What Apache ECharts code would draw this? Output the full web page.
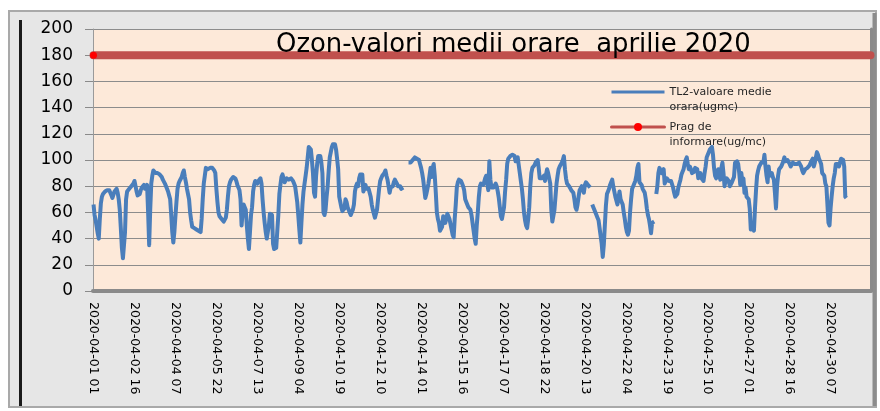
<!DOCTYPE html>
<html>
<head>
<meta charset="utf-8">
<title>Ozon-valori medii orare aprilie 2020</title>
<script src="https://cdn.jsdelivr.net/npm/echarts@6.0.0/dist/echarts.min.js"></script>
<style>
  html, body { margin: 0; padding: 0; background: #fff; }
  #main { width: 880px; height: 411px; }
</style>
</head>
<body>
<div id="main"></div>
<script>
// ore: 2020-04-01 01 ... (categorii orare)
const firstHour = Date.UTC(2020, 3, 1, 1)
const NUM_HOURS = 741
const LABEL_STEP = 39 // o eticheta la fiecare 39 ore

// valori medii orare ozon TL2 (ug/mc), un rand = o zi, null = lipsa date
const ozone = [
  66, 58, 54, 53, 44, 40, 55, 67, 72, 74, 74, 76, 76, 77, 78, 77, 75, 73, 71, 72, 76, 77, 78, 75,
  70, 62, 48, 33, 25, 24, 45, 70, 76, 77, 78, 79, 80, 80, 82, 84, 85, 76, 73, 72, 74, 77, 79, 80,
  81, 78, 77, 81, 60, 35, 62, 82, 88, 92, 91, 90, 91, 90, 90, 89, 88, 87, 85, 84, 82, 81, 78, 76,
  73, 70, 58, 45, 37, 45, 57, 68, 78, 82, 84, 85, 87, 90, 92, 87, 83, 78, 74, 70, 60, 54, 49, 49,
  48, 48, 47, 46, 46, 45, 45, 55, 70, 82, 88, 94, 93, 93, 93, 94, 94, 94, 94, 92, 90, 78, 68, 60,
  57, 56, 55, 54, 53, 52, 56, 62, 72, 80, 83, 85, 86, 87, 88, 86, 84, 81, 79, 77, 70, 50, 60, 66,
  64, 62, 50, 40, 32, 45, 58, 64, 76, 81, 84, 83, 82, 84, 85, 86, 82, 70, 60, 52, 45, 40, 45, 50,
  59, 60, 58, 36, 32, 33, 33, 34, 58, 74, 81, 87, 89, 88, 83, 84, 86, 86, 85, 86, 86, 86, 84, 82,
  80, 74, 68, 58, 47, 37, 52, 66, 76, 82, 88, 94, 102, 110, 109, 108, 100, 90, 75, 72, 88, 97, 103, 103,
  103, 98, 90, 60, 58, 62, 72, 80, 92, 102, 106, 110, 112, 113, 112, 108, 101, 93, 72, 68, 64, 61, 60, 63,
  70, 68, 64, 62, 60, 58, 58, 62, 66, 76, 80, 82, 80, 86, 89, 90, 89, 76, 78, 81, 78, 77, 78, 75,
  72, 66, 62, 59, 56, 55, 62, 70, 78, 84, 86, 88, 89, 90, 92, 88, 85, 80, 75, 79, 78, 80, 83, 85,
  84, 82, 80, 79, 80, 78, 77, 79, null, null, null, null, 98, 97, 98, 99, 100, 101, 102, 102, 101, 101, 100, 97,
  94, 90, 85, 78, 71, 74, 78, 82, 88, 94, 87, 94, 97, 88, 75, 60, 55, 52, 46, 47, 49, 57, 55, 52,
  55, 59, 57, 55, 54, 47, 43, 41, 55, 66, 79, 83, 85, 86, 84, 82, 80, 77, 70, 68, 67, 64, 63, 62,
  58, 52, 46, 40, 36, 50, 60, 72, 80, 82, 82, 81, 83, 86, 88, 82, 77, 99, 85, 79, 80, 79, 79, 82,
  80, 76, 71, 64, 57, 55, 54, 64, 76, 85, 97, 101, 102, 103, 104, 104, 103, 103, 99, 100, 102, 96, 90, 84,
  78, 70, 60, 54, 50, 48, 55, 64, 80, 90, 94, 95, 96, 98, 99, 100, 94, 86, 85, 86, 87, 88, 84, 89,
  93, 90, 86, 82, 62, 53, 52, 62, 72, 82, 88, 93, 95, 96, 98, 100, 103, 93, 86, 82, 81, 80, 79, 77,
  76, 75, 70, 64, 62, 66, 72, 77, 78, 80, 77, 75, 81, 83, 84, 81, 80, 79, null, 66, 64, 62, 60, 58,
  56, 54, 48, 42, 36, 26, 35, 50, 65, 74, 76, 78, 81, 83, 85, 80, 76, 72, 73, 66, 71, 76, 70, 68,
  66, 60, 55, 49, 45, 43, 46, 60, 70, 78, 80, 81, 84, 88, 94, 97, 83, 82, 81, 78, 77, 75, 70, 63,
  58, 55, 50, 44, 52, 53, 53, null, 74, 80, 90, 94, 95, 90, 91, 93, 82, 84, 86, 85, 84, 83, 84, 83,
  79, 75, 72, 71, 74, 79, 82, 85, 89, 91, 93, 97, 100, 102, 97, 93, 95, 93, 90, 89, 91, 94, 94, 93,
  86, 88, 90, 86, 85, 84, 90, 95, 102, 104, 106, 108, 109, 110, 104, 94, 88, 86, 85, 93, 88, 85, 94, 98,
  90, 80, 84, 86, 85, 84, 80, 80, 83, 84, 87, 98, 99, 99, 97, 90, 81, 90, 83, 86, 75, 79, 72, 71,
  70, 63, 47, 47, 48, 46, 63, 77, 88, 92, 95, 96, 98, 98, 98, 104, 95, 88, 83, 95, 88, 89, 90, 87,
  85, 75, 63, 80, 88, 93, 94, 95, 97, 99, 102, 99, 98, 100, 99, 97, 95, 96, 98, 97, 97, 98, 97, 98,
  98, 97, 95, 92, 90, 89, 93, 93, 94, 95, 96, 98, 99, 101, 95, 98, 102, 106, 104, 101, 99, 97, 90, 89,
  88, 82, 80, 79, 52, 50, 63, 72, 80, 86, 90, 97, 98, 97, 95, 98, 101, 101, 100, 95, 72, 71
]

// prag de informare ozon
const pragInformare = 180

const yTicks = { min: 0, max: 200, step: 20 }

const seriesNames = ['TL2-valoare medie orara(ugmc)', 'Prag de informare(ug/mc)']
// prima linie goala: textul incepe la nivelul simbolului, ca in Excel
const legendText = {
  'TL2-valoare medie orara(ugmc)': '\nTL2-valoare medie\norara(ugmc)',
  'Prag de informare(ug/mc)': '\nPrag de\ninformare(ug/mc)'
}

function pad(n) {
  return n < 10 ? '0' + n : '' + n
}

const categories = []
for (let i = 0; i < NUM_HOURS; i++) {
  const d = new Date(firstHour + i * 3600 * 1000)
  categories.push(d.getUTCFullYear() + '-' + pad(d.getUTCMonth() + 1) + '-' +
    pad(d.getUTCDate()) + ' ' + pad(d.getUTCHours()))
}

const FONT = 'DejaVu Sans'

function legendFor(name, top, hideSymbol) {
  return {
    data: [name],
    left: 610,
    top: top,
    padding: 0,
    itemWidth: 53,
    itemHeight: 10,
    selectedMode: false,
    lineStyle: { width: 3 },
    itemStyle: hideSymbol ? { opacity: 0 } : {},
    formatter: function (n) { return legendText[n] },
    textStyle: {
      fontFamily: FONT,
      fontSize: 11,
      lineHeight: 15,
      color: '#262626'
    }
  }
}

var myChart = echarts.init(document.getElementById('main'), null, { renderer: 'canvas' })

myChart.setOption({
  animation: false,
  backgroundColor: '#ffffff',
  // rama graficului (stil Excel)
  graphic: [
    {
      type: 'rect',
      z: -10,
      shape: { x: 9, y: 11, width: 867, height: 396 },
      style: { fill: '#e6e6e6', stroke: '#a9a9a9', lineWidth: 2 }
    },
    {
      type: 'line',
      z: -9,
      shape: { x1: 20.5, y1: 20, x2: 20.5, y2: 406 },
      style: { stroke: '#1a1a1a', lineWidth: 3 }
    },
    {
      type: 'line',
      z: -9,
      shape: { x1: 874.5, y1: 13, x2: 874.5, y2: 406 },
      style: { stroke: '#8c8c8c', lineWidth: 4 }
    }
  ],
  title: {
    text: 'Ozon-valori medii orare  aprilie 2020',
    left: 276,
    top: 32,
    padding: 0,
    textStyle: {
      fontFamily: FONT,
      fontSize: 25.9,
      fontWeight: 'normal',
      color: '#000'
    }
  },
  legend: [
    legendFor(seriesNames[0], 69.5, true),
    legendFor(seriesNames[1], 104.5, false)
  ],
  grid: {
    left: 93,
    right: 9,
    top: 29,
    bottom: 120,
    show: true,
    backgroundColor: '#fde9d9',
    borderWidth: 0
  },
  xAxis: {
    type: 'category',
    data: categories,
    boundaryGap: true,
    axisLine: { lineStyle: { color: '#8a8a8a', width: 4 } },
    axisTick: { show: false },
    axisLabel: {
      interval: LABEL_STEP - 1,
      rotate: -90,
      margin: 11,
      fontFamily: FONT,
      fontSize: 12.5,
      color: '#000'
    },
    splitLine: { show: false }
  },
  yAxis: [
    {
      type: 'value',
      min: yTicks.min,
      max: yTicks.max,
      interval: yTicks.step,
      axisLine: { show: true, lineStyle: { color: '#9a9a9a', width: 1 } },
      axisTick: { show: true, length: 8, lineStyle: { color: '#8a8a8a' } },
      axisLabel: {
        margin: 20,
        fontFamily: FONT,
        fontSize: 17,
        color: '#000'
      },
      splitLine: { lineStyle: { color: '#8c8c8c', width: 1 } }
    },
    {
      type: 'value',
      position: 'right',
      min: yTicks.min,
      max: yTicks.max,
      interval: yTicks.step,
      axisLine: { show: true, lineStyle: { color: '#8a8a8a', width: 3 } },
      axisTick: { show: false },
      axisLabel: { show: false },
      splitLine: { show: false }
    }
  ],
  series: [
    {
      name: seriesNames[0],
      type: 'line',
      data: ozone,
      symbol: 'none',
      connectNulls: false,
      lineStyle: { color: '#4a7ebb', width: 4, join: 'round' },
      itemStyle: { color: '#4a7ebb' },
      z: 3
    },
    {
      name: seriesNames[1],
      type: 'line',
      data: [[0, pragInformare], [NUM_HOURS - 1, pragInformare]],
      symbol: 'circle',
      symbolSize: 7,
      showSymbol: true,
      lineStyle: { color: '#c0504d', width: 8, cap: 'round' },
      itemStyle: { color: '#ff0000', borderWidth: 0 },
      z: 2
    }
  ]
})
</script>
</body>
</html>
